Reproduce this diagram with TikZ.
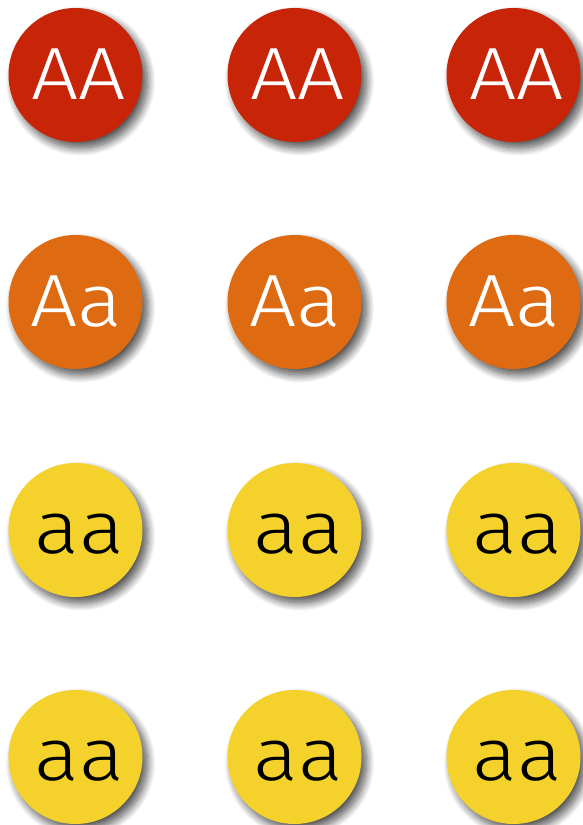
\documentclass[tikz,border=0pt]{standalone}
\usepackage{fontspec}
\setmainfont{Fira Sans}[UprightFont = * Light, FakeStretch=1.13]
\usetikzlibrary{shadows.blur}
\definecolor{cred}{RGB}{200,37,8}
\definecolor{corange}{RGB}{222,107,18}
\definecolor{cyellow}{RGB}{244,210,43}
\tikzset{
  disc/.style={circle, minimum size=134pt, inner sep=0pt, draw=none,
    blur shadow={shadow xshift=5pt, shadow yshift=-6pt, shadow blur radius=8pt, shadow blur steps=14, shadow opacity=70}},
  redd/.style={disc, fill=cred},
  oranged/.style={disc, fill=corange},
  yellowd/.style={disc, fill=cyellow},
  lab/.style={anchor=base, inner sep=0pt, font=\fontsize{74}{80}\selectfont},
  wlab/.style={lab, text=white},
  blab/.style={lab, text=black}
}
\begin{document}
\begin{tikzpicture}[x=1pt, y=1pt]
\useasboundingbox (0,0) rectangle (583,825);
\foreach \c/\x in {1/75.5, 2/294.5, 3/513.5} {
  \node[redd] (r1c\c) at (\x, 750) {};
  \node[wlab] (t1c\c) at ([xshift=3pt, yshift=-25pt]r1c\c.center) {AA};
  \node[oranged] (r2c\c) at (\x, 523) {};
  \node[wlab] (t2c\c) at ([xshift=1pt, yshift=-25pt]r2c\c.center) {Aa};
  \node[yellowd] (r3c\c) at (\x, 295) {};
  \node[blab] (t3c\c) at ([xshift=4pt, yshift=-24pt]r3c\c.center) {aa};
  \node[yellowd] (r4c\c) at (\x, 68) {};
  \node[blab] (t4c\c) at ([xshift=4pt, yshift=-24pt]r4c\c.center) {aa};
}
\end{tikzpicture}
\end{document}
